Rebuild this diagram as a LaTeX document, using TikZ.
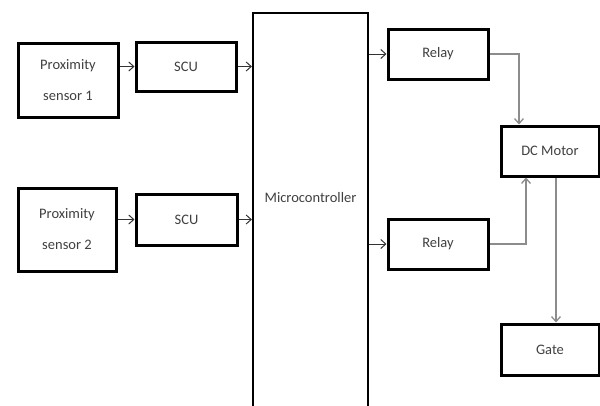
\documentclass[tikz,border=0pt]{standalone}
\usepackage{fontspec}
\setmainfont{Carlito}
\usetikzlibrary{arrows.meta}
\begin{document}
\begin{tikzpicture}[x=1pt,y=-1pt,
  blk/.style={draw=black, line width=3pt, fill=white, inner sep=0pt, align=center,
    font=\fontsize{14.5}{31}\selectfont, text=black!75},
  arr/.style={line width=1pt, draw=black!80, -{Straight Barb[length=5pt,width=9pt]}},
  garr/.style={line width=1.3pt, draw=black!45, -{Straight Barb[length=5pt,width=9pt]}}]
\clip (0,0) rectangle (600,405);
\fill[white] (0,0) rectangle (600,405);
% blocks
\node[blk, minimum width=100pt, minimum height=74pt] (ps1) at (68,80) {Proximity\\sensor 1};
\node[blk, minimum width=100pt, minimum height=49pt] (scu1) at (186,66.5) {SCU};
\node[blk, minimum width=98pt, minimum height=83pt] (ps2) at (67,229.5) {Proximity\\sensor 2};
\node[blk, minimum width=101pt, minimum height=51pt] (scu2) at (186.5,219.5) {SCU};
\node[blk, line width=2.2pt, minimum width=115pt, minimum height=410pt] (mc) at (310.5,218) {};
\node[font=\fontsize{14.5}{16}\selectfont, text=black!75] (mct) at (310.5,198) {Microcontroller};
\node[blk, minimum width=100pt, minimum height=50pt] (relay1) at (438,54) {Relay};
\node[blk, minimum width=100pt, minimum height=50pt] (relay2) at (438,244) {Relay};
\node[blk, minimum width=98pt, minimum height=50pt] (dcm) at (550,151) {DC Motor};
\node[blk, minimum width=98pt, minimum height=51pt] (gate) at (550,349.5) {Gate};
% connectors
\draw[arr] (ps1.east |- scu1) -- (scu1.west);
\draw[arr] (scu1.east) -- (scu1.east -| mc.west);
\draw[arr] (ps2.east |- scu2) -- (scu2.west);
\draw[arr] (scu2.east) -- (scu2.east -| mc.west);
\draw[arr] (relay1.west -| mc.east) -- (relay1.west);
\draw[arr] (relay2.west -| mc.east) -- (relay2.west);
\draw[garr] (relay1.east) -| ([xshift=-31pt]dcm.north);
\draw[garr] (relay2.east) -| ([xshift=-24pt]dcm.south);
\draw[garr] ([xshift=6pt]dcm.south) -- ([xshift=6pt]gate.north);
\end{tikzpicture}
\end{document}
